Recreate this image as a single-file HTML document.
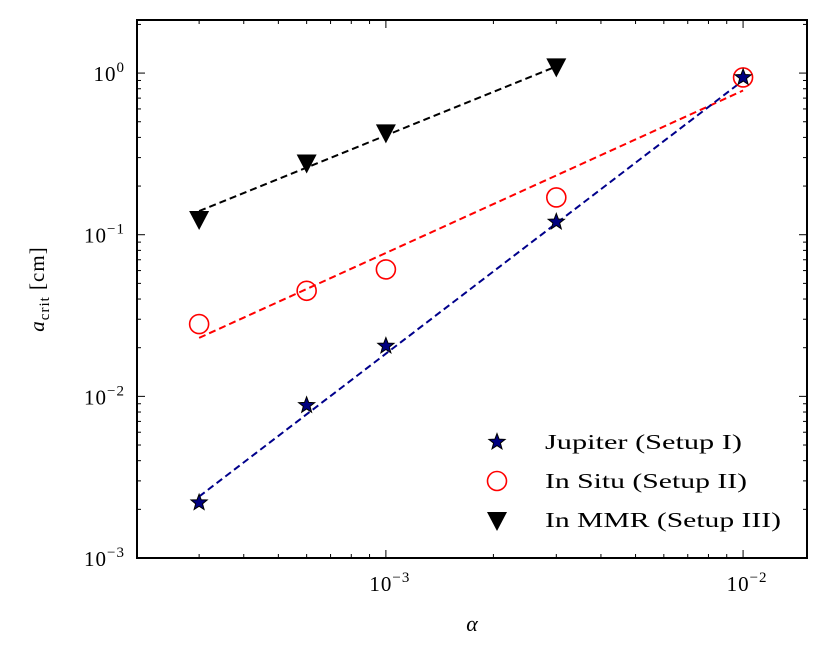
<!DOCTYPE html>
<html><head><meta charset="utf-8"><style>
html,body{margin:0;padding:0;background:#fff}
svg text{font-family:"Liberation Serif","DejaVu Serif",serif;fill:#000}
</style></head><body>
<svg id="chart" width="829" height="659" xmlns="http://www.w3.org/2000/svg"></svg>
<script>
const alphaValues=[3e-4,6e-4,1e-3,3e-3,1e-2];
const jupiterValues=[2.2e-3,8.8e-3,0.0205,0.12,0.94];
const inSituValues=[0.028,0.045,0.061,0.17,0.94];
const mmrAlpha=[3e-4,6e-4,1e-3,3e-3];
const mmrValues=[0.125,0.28,0.43,1.1];
const jupiterFitX=[3e-4,1e-2];
const jupiterFitY=[2.4e-3,0.9];
const inSituFitX=[3e-4,1e-2];
const inSituFitY=[0.023,0.78];
const mmrFitX=[3e-4,3e-3];
const mmrFitY=[0.14,1.1];
const yTickExps=[-3,-2,-1,0];
const xTickExps=[-3,-2];

const L=137,R=807,T=20,B=558;
const xmin=Math.log10(2.01e-4),xmax=Math.log10(1.51e-2);
const ymin=-3,ymax=Math.log10(2.13);
const sx=v=>L+(Math.log10(v)-xmin)/(xmax-xmin)*(R-L);
const sy=v=>B-(Math.log10(v)-ymin)/(ymax-ymin)*(B-T);
const svg=document.getElementById('chart');
const NS='http://www.w3.org/2000/svg';
function mk(tag,attrs,parent){const e=document.createElementNS(NS,tag);for(const k in attrs)e.setAttribute(k,attrs[k]);(parent||svg).appendChild(e);return e;}

const ticks=mk('g',{stroke:'#000','stroke-width':1});


for(let e=-4;e<=-1;e++)for(let m=1;m<10;m++){const v=m*Math.pow(10,e);const lv=Math.log10(v);if(lv<xmin||lv>xmax)continue;const x=sx(v);const len=m===1?8:4;
mk('line',{x1:x,y1:B,x2:x,y2:B-len},ticks);mk('line',{x1:x,y1:T,x2:x,y2:T+len},ticks);}
for(let e=-3;e<=0;e++)for(let m=1;m<10;m++){const v=m*Math.pow(10,e);const lv=Math.log10(v);if(lv<ymin-1e-9||lv>ymax)continue;const y=sy(v);const len=m===1?8:4;
mk('line',{x1:L,y1:y,x2:L+len,y2:y},ticks);mk('line',{x1:R,y1:y,x2:R-len,y2:y},ticks);}

yTickExps.forEach(e=>{const t=mk('text',{x:L-12,y:sy(Math.pow(10,e))+8,'text-anchor':'end','font-size':21,'letter-spacing':1});


t.innerHTML='10<tspan dy="-9" font-size="15">'+(e<0?'\u2212'+(-e):e)+'</tspan>';});
xTickExps.forEach(e=>{const t=mk('text',{x:sx(Math.pow(10,e))+4,y:B+33,'text-anchor':'middle','font-size':21,'letter-spacing':1});


t.innerHTML='10<tspan dy="-9" font-size="15">\u2212'+(-e)+'</tspan>';});

function fit(xs,ys,color,name){const l=mk('line',{x1:sx(xs[0]),y1:sy(ys[0]),x2:sx(xs[1]),y2:sy(ys[1]),stroke:color,'stroke-width':2,'stroke-dasharray':'7,4'});

}
fit(mmrFitX,mmrFitY,'#000','mmr-fit-line');
fit(inSituFitX,inSituFitY,'#f00','in-situ-fit-line');
fit(jupiterFitX,jupiterFitY,'#00008b','jupiter-fit-line');

function star(cx,cy,r,parent){let p='';for(let i=0;i<10;i++){const rr=i%2?r*0.42:r;const a=-Math.PI/2+i*Math.PI/5;p+=(i?'L':'M')+(cx+rr*Math.cos(a)).toFixed(1)+','+(cy+rr*Math.sin(a)).toFixed(1);}
return mk('path',{d:p+'Z',fill:'#000080',stroke:'#000','stroke-width':1},parent);}
function tri(cx,cy,parent){return mk('path',{d:`M${cx-10},${cy-8}L${cx+10},${cy-8}L${cx},${cy+11}Z`,fill:'#000'},parent);}

alphaValues.forEach((a,i)=>{const c=mk('circle',{cx:sx(a),cy:sy(inSituValues[i]),r:9.5,fill:'none',stroke:'#f00','stroke-width':1.6});

});
mmrAlpha.forEach((a,i)=>{const t=tri(sx(a),sy(mmrValues[i]));

});
alphaValues.forEach((a,i)=>{const s=star(sx(a),sy(jupiterValues[i]),8.5);

});

const f=mk('rect',{x:L,y:T,width:R-L,height:B-T,fill:'none',stroke:'#000','stroke-width':2});



const xt=mk('text',{x:(L+R)/2,y:631,'text-anchor':'middle','font-size':22,'font-style':'italic'});


xt.textContent='\u03b1';
const yt=mk('text',{transform:'translate(44,289) rotate(-90)','text-anchor':'middle','font-size':21,'letter-spacing':1});


yt.innerHTML='<tspan font-style="italic">a</tspan><tspan dy="5" font-size="15">crit</tspan><tspan dy="-5"> [cm]</tspan>';

const lg=mk('g',{});


const labels=['Jupiter (Setup I)','In Situ (Setup II)','In MMR (Setup III)'];
const labelWidths=[197,202,236];
const rows=[442,481,520];
star(497,rows[0],8.5,lg);
mk('circle',{cx:497,cy:rows[1],r:9.5,fill:'none',stroke:'#f00','stroke-width':1.6},lg);
tri(497,rows[2],lg);
labels.forEach((s,i)=>{const t=mk('text',{x:545,y:rows[i]+7,'font-size':21,textLength:labelWidths[i],lengthAdjust:'spacingAndGlyphs'},lg);


t.textContent=s;});
</script>
</body></html>
